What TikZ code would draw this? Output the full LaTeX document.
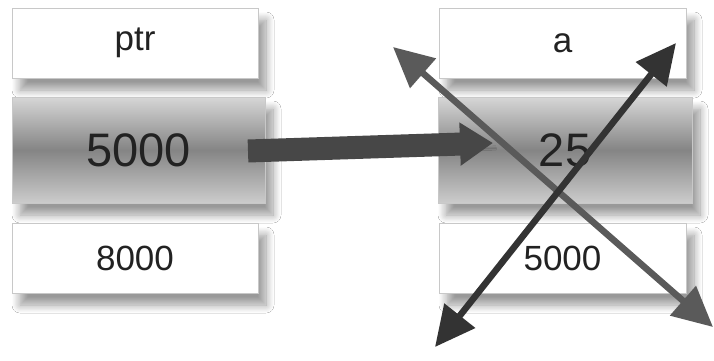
\documentclass[tikz,border=0pt]{standalone}
\usepackage{fontspec}
\setmainfont{Liberation Sans}
\usetikzlibrary{arrows.meta,shadows.blur}
\definecolor{boxline}{HTML}{C8C8C8}
\definecolor{txt}{HTML}{222222}
\definecolor{darkarrow}{HTML}{333333}
\definecolor{grayarrow}{HTML}{5A5A5A}
\tikzset{
  cell/.style={draw=boxline, line width=0.8pt, fill=white, inner sep=0pt,
    text=txt, font=\fontsize{35}{38}\selectfont,
    blur shadow={shadow xshift=8pt, shadow yshift=-12pt, shadow blur radius=8pt, shadow blur steps=10, shadow opacity=40}},
  valcell/.style={draw=boxline, line width=0.8pt, inner sep=0pt,
    text=txt, font=\fontsize{47}{50}\selectfont,
    top color=black!16, bottom color=black!20, middle color=black!48,
    blur shadow={shadow xshift=8pt, shadow yshift=-12pt, shadow blur radius=8pt, shadow blur steps=10, shadow opacity=40}},
  bigarrow/.style={line width=23pt, draw=black!72, -{Triangle[length=33pt,width=41pt]},
    blur shadow={shadow xshift=3pt, shadow yshift=-5pt, shadow opacity=30}},
  crossdark/.style={line width=6.5pt, draw=darkarrow, {Triangle[length=40pt,width=38pt]}-{Triangle[length=40pt,width=38pt]}},
  crossgray/.style={line width=6.5pt, draw=grayarrow, {Triangle[length=40pt,width=38pt]}-{Triangle[length=40pt,width=38pt]}},
}
\begin{document}
\begin{tikzpicture}[x=1pt,y=-1pt]
\useasboundingbox[fill=white] (0,0) rectangle (714,361);
% left column
\node[cell, minimum width=246pt, minimum height=70pt] (ptr) at (135,43) {ptr};
\node[valcell, minimum width=253pt, minimum height=106pt] (v1) at (138.5,150) {5000};
\node[cell, minimum width=246pt, minimum height=70pt] (ad1) at (135,258) {8000};
% right column
\node[cell, minimum width=247pt, minimum height=70pt] (a) at (562.5,43) {a};
\node[valcell, minimum width=254pt, minimum height=106pt] (v2) at (565,150) {25};
\node[cell, minimum width=247pt, minimum height=70pt] (ad2) at (562.5,258) {5000};
% arrows
\coordinate (s) at (248,151);
\coordinate (t) at (493,143);
\draw[bigarrow] (s) -- (t);
\coordinate (g1) at (393,47);
\coordinate (g2) at (713,327);
\coordinate (d1) at (435,347);
\coordinate (d2) at (676,43);
\draw[crossgray] (g1) -- (g2);
\draw[crossdark] (d1) -- (d2);
\end{tikzpicture}
\end{document}
